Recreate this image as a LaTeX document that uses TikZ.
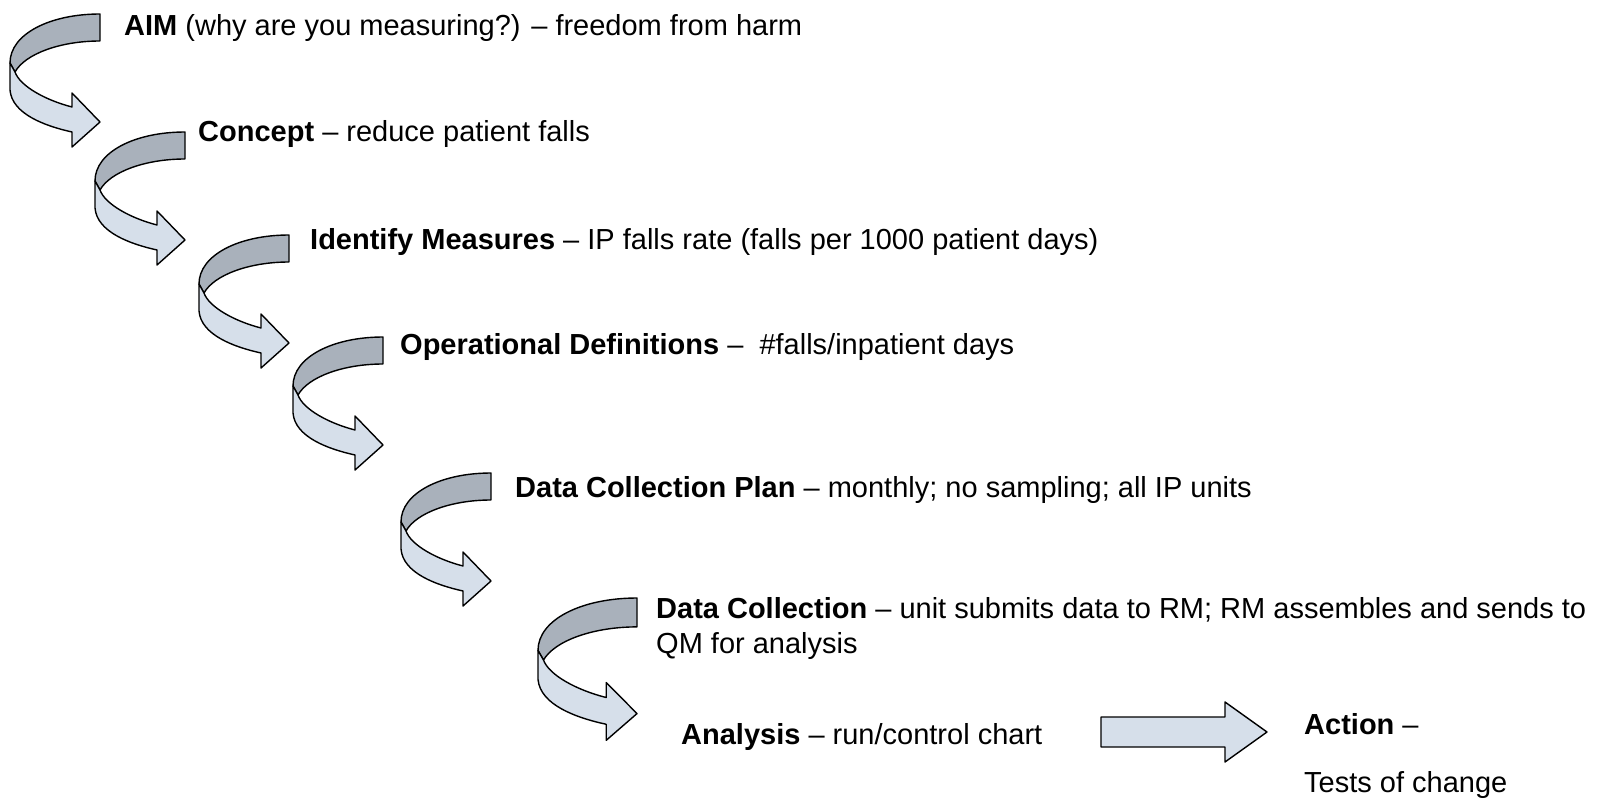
\documentclass[tikz,border=0pt]{standalone}
\usepackage{fontspec}
\setmainfont{Liberation Sans}
\usepackage{tikz}
\definecolor{curlback}{HTML}{A9B1BB}
\definecolor{curlfront}{HTML}{D6DFEA}
\tikzset{
  outline/.style={draw=black, line width=1.4pt, line join=round},
  steptext/.style={anchor=base west, inner sep=0pt, font=\fontsize{29}{35}\selectfont},
  pics/curl/.style={code={
    \filldraw[outline, fill=curlback] (0,0) .. controls (-50,0) and (-90,20) .. (-90,49)
      -- (-85,58) .. controls (-75,40) and (-40,27) .. (0,27) -- cycle;
    \filldraw[outline, fill=curlfront] (-90,49) -- (-90,76) .. controls (-88,100) and (-55,112) .. (-28,118)
      -- (-28,133) -- (0,108) -- (-28,79) -- (-28,93) .. controls (-55,86) and (-80,72) .. (-85,58) -- cycle;
  }}
}
\begin{document}
\begin{tikzpicture}[x=1pt, y=-1pt]
  \useasboundingbox (0,0) rectangle (1597,798);
  % curled step arrows
  \foreach \x/\y/\sx/\sy in {100/14/1/1, 185/132/1/1, 289/235/1/1, 383/337/1/1, 491/473/1/1, 637/598/1.1/1.07}
    \pic[xscale=\sx, yscale=\sy] at (\x,\y) {curl};
  % step texts
  \node[steptext] (aim) at (124,35) {\textbf{AIM} (why are you measuring?) -- freedom from harm};
  \node[steptext] (concept) at (198,141) {\textbf{Concept} -- reduce patient falls};
  \node[steptext] (measures) at (310,249) {\textbf{Identify Measures} -- IP falls rate (falls per 1000 patient days)};
  \node[steptext] (opdef) at (400,354) {\textbf{Operational Definitions} --\ \ \#falls/inpatient days};
  \node[steptext] (plan) at (515,497) {\textbf{Data Collection Plan} -- monthly; no sampling; all IP units};
  \node[steptext] (collect) at (656,618) {\textbf{Data Collection} -- unit submits data to RM; RM assembles and sends to};
  \node[steptext] (collect2) at (656,653) {QM for analysis};
  \node[steptext] (analysis) at (681,744) {\textbf{Analysis} -- run/control chart};
  \node[steptext] (action) at (1304,734) {\textbf{Action} --};
  \node[steptext] (tests) at (1304,792) {Tests of change};
  % straight arrow to action
  \filldraw[outline, fill=curlfront] (1101,717) -- (1225,717) -- (1225,702) -- (1267,732)
    -- (1225,762) -- (1225,747) -- (1101,747) -- cycle;
\end{tikzpicture}
\end{document}
